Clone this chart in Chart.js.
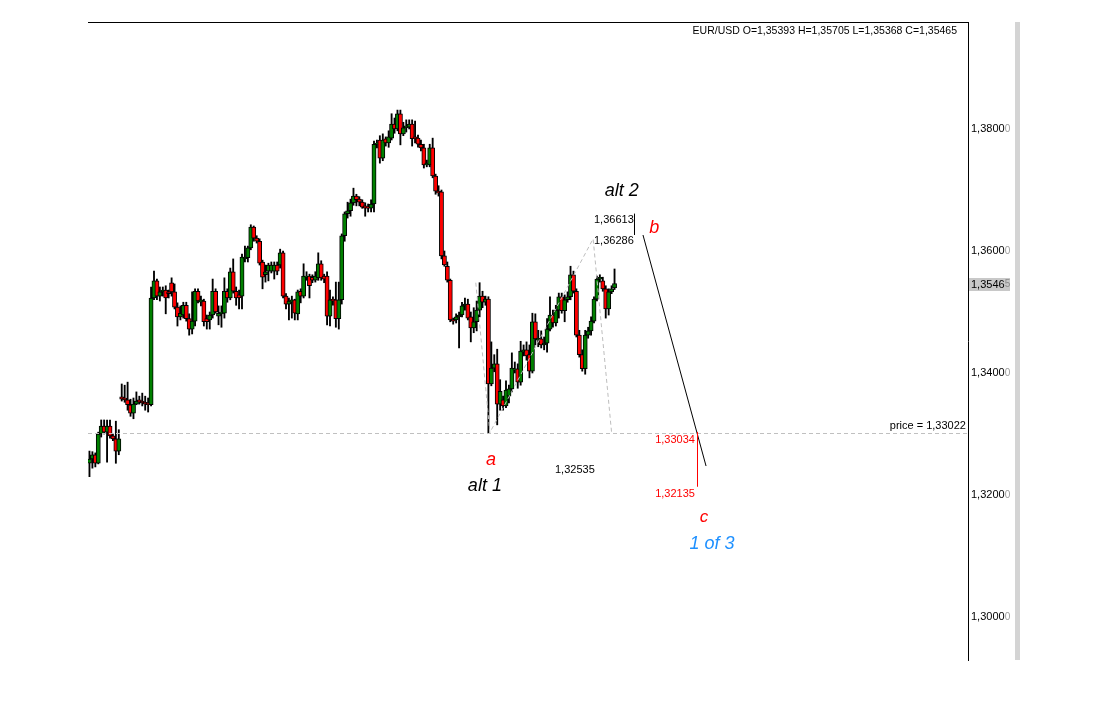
<!DOCTYPE html>
<html>
<head>
<meta charset="utf-8">
<script src="https://cdn.jsdelivr.net/npm/chart.js@4.4.0/dist/chart.umd.min.js"></script>
<style>
  html, body { margin: 0; padding: 0; background: #fff; }
  #wrap { width: 1117px; height: 711px; }
</style>
</head>
<body>
<div id="wrap"><canvas id="chart" width="1117" height="711"></canvas></div>
<script>
/* ---------- data ---------- */
const opens = [
  1.3252, 1.3259, 1.3266, 1.3252, 1.3300, 1.3313, 1.3303, 1.3313, 1.3297, 1.3292,
  1.3272, 1.3361, 1.3359, 1.3356, 1.3348, 1.3334, 1.3349, 1.3356, 1.3354, 1.3352,
  1.3351, 1.3348, 1.3523, 1.3551, 1.3526, 1.3533, 1.3536, 1.3533, 1.3548, 1.3533,
  1.3508, 1.3492, 1.3495, 1.3511, 1.3489, 1.3472, 1.3485, 1.3534, 1.3516, 1.3518,
  1.3489, 1.3487, 1.3495, 1.3534, 1.3493, 1.3497, 1.3498, 1.3534, 1.3523, 1.3566,
  1.3534, 1.3528, 1.3526, 1.3587, 1.3589, 1.3605, 1.3639, 1.3621, 1.3616, 1.3582,
  1.3561, 1.3567, 1.3567, 1.3567, 1.3577, 1.3577, 1.3597, 1.3526, 1.3513, 1.3516,
  1.3520, 1.3497, 1.3534, 1.3526, 1.3557, 1.3559, 1.3557, 1.3552, 1.3556, 1.3579,
  1.3559, 1.3559, 1.3493, 1.3521, 1.3520, 1.3489, 1.3520, 1.3625, 1.3661, 1.3666,
  1.3679, 1.3690, 1.3685, 1.3680, 1.3674, 1.3672, 1.3670, 1.3677, 1.3775, 1.3782,
  1.3752, 1.3784, 1.3777, 1.3785, 1.3808, 1.3800, 1.3825, 1.3792, 1.3802, 1.3803,
  1.3808, 1.3787, 1.3785, 1.3775, 1.3769, 1.3741, 1.3741, 1.3769, 1.3723, 1.3698,
  1.3697, 1.3592, 1.3575, 1.3552, 1.3487, 1.3487, 1.3492, 1.3495, 1.3510, 1.3513,
  1.3492, 1.3474, 1.3484, 1.3503, 1.3526, 1.3516, 1.3521, 1.3382, 1.3408, 1.3415,
  1.3349, 1.3356, 1.3346, 1.3362, 1.3374, 1.3405, 1.3407, 1.3385, 1.3434, 1.3438,
  1.3430, 1.3403, 1.3484, 1.3454, 1.3456, 1.3446, 1.3449, 1.3472, 1.3495, 1.3482,
  1.3503, 1.3525, 1.3502, 1.3520, 1.3525, 1.3561, 1.3534, 1.3462, 1.3430, 1.3407,
  1.3462, 1.3469, 1.3485, 1.3521, 1.3554, 1.3551, 1.3538, 1.3505, 1.3533, 1.35393
];
const highs = [
  1.3272, 1.3271, 1.3269, 1.3303, 1.3323, 1.3323, 1.3323, 1.3323, 1.3300, 1.3321,
  1.3307, 1.3382, 1.3380, 1.3385, 1.3357, 1.3359, 1.3369, 1.3362, 1.3367, 1.3362,
  1.3359, 1.3541, 1.3567, 1.3554, 1.3541, 1.3541, 1.3543, 1.3536, 1.3556, 1.3546,
  1.3515, 1.3510, 1.3516, 1.3516, 1.3497, 1.3533, 1.3538, 1.3538, 1.3526, 1.3521,
  1.3495, 1.3500, 1.3554, 1.3538, 1.3510, 1.3510, 1.3556, 1.3538, 1.3572, 1.3587,
  1.3541, 1.3536, 1.3595, 1.3608, 1.3608, 1.3643, 1.3641, 1.3625, 1.3620, 1.3585,
  1.3577, 1.3580, 1.3582, 1.3582, 1.3582, 1.3603, 1.3600, 1.3530, 1.3523, 1.3526,
  1.3521, 1.3536, 1.3538, 1.3579, 1.3566, 1.3562, 1.3561, 1.3566, 1.3597, 1.3584,
  1.3562, 1.3566, 1.3536, 1.3525, 1.3549, 1.3549, 1.3628, 1.3664, 1.3680, 1.3685,
  1.3703, 1.3693, 1.3689, 1.3684, 1.3679, 1.3677, 1.3684, 1.3780, 1.3782, 1.3789,
  1.3792, 1.3787, 1.3797, 1.3825, 1.3818, 1.3831, 1.3831, 1.3811, 1.3815, 1.3815,
  1.3815, 1.3813, 1.3790, 1.3782, 1.3775, 1.3749, 1.3775, 1.3785, 1.3726, 1.3707,
  1.3700, 1.3600, 1.3582, 1.3554, 1.3490, 1.3497, 1.3500, 1.3516, 1.3523, 1.3521,
  1.3500, 1.3507, 1.3518, 1.3548, 1.3534, 1.3526, 1.3525, 1.3451, 1.3430, 1.3439,
  1.3389, 1.3362, 1.3387, 1.3380, 1.3433, 1.3418, 1.3415, 1.3452, 1.3446, 1.3451,
  1.3446, 1.3498, 1.3497, 1.3470, 1.3469, 1.3459, 1.3489, 1.3525, 1.3503, 1.3511,
  1.3531, 1.3531, 1.3528, 1.3533, 1.3575, 1.3567, 1.3538, 1.3470, 1.3438, 1.3470,
  1.3475, 1.3492, 1.3525, 1.3559, 1.3561, 1.3557, 1.3543, 1.3538, 1.3543, 1.35705
];
const lows = [
  1.3230, 1.3244, 1.3246, 1.3251, 1.3295, 1.3300, 1.3254, 1.3293, 1.3289, 1.3252,
  1.3266, 1.3354, 1.3352, 1.3339, 1.3329, 1.3325, 1.3348, 1.3349, 1.3346, 1.3339,
  1.3336, 1.3346, 1.3520, 1.3520, 1.3518, 1.3526, 1.3497, 1.3523, 1.3526, 1.3505,
  1.3477, 1.3487, 1.3490, 1.3485, 1.3462, 1.3464, 1.3477, 1.3515, 1.3510, 1.3477,
  1.3472, 1.3472, 1.3490, 1.3498, 1.3479, 1.3475, 1.3490, 1.3516, 1.3520, 1.3531,
  1.3511, 1.3505, 1.3505, 1.3582, 1.3582, 1.3602, 1.3616, 1.3613, 1.3577, 1.3538,
  1.3549, 1.3551, 1.3564, 1.3554, 1.3561, 1.3572, 1.3523, 1.3505, 1.3487, 1.3490,
  1.3487, 1.3487, 1.3515, 1.3523, 1.3552, 1.3523, 1.3548, 1.3549, 1.3552, 1.3552,
  1.3548, 1.3479, 1.3477, 1.3511, 1.3475, 1.3472, 1.3513, 1.3616, 1.3654, 1.3657,
  1.3675, 1.3674, 1.3674, 1.3670, 1.3657, 1.3664, 1.3664, 1.3664, 1.3769, 1.3744,
  1.3748, 1.3772, 1.3770, 1.3782, 1.3793, 1.3797, 1.3774, 1.3789, 1.3795, 1.3800,
  1.3772, 1.3777, 1.3770, 1.3764, 1.3736, 1.3738, 1.3738, 1.3720, 1.3693, 1.3690,
  1.3587, 1.3575, 1.3549, 1.3484, 1.3480, 1.3482, 1.3441, 1.3492, 1.3503, 1.3487,
  1.3451, 1.3466, 1.3469, 1.3492, 1.3507, 1.3511, 1.3302, 1.3379, 1.3402, 1.3315,
  1.3339, 1.3339, 1.3343, 1.3351, 1.3369, 1.3400, 1.3375, 1.3380, 1.3428, 1.3421,
  1.3392, 1.3400, 1.3446, 1.3443, 1.3441, 1.3438, 1.3434, 1.3469, 1.3475, 1.3477,
  1.3490, 1.3498, 1.3484, 1.3516, 1.3520, 1.3531, 1.3459, 1.3426, 1.3403, 1.3398,
  1.3457, 1.3462, 1.3482, 1.3518, 1.3549, 1.3534, 1.3490, 1.3495, 1.3530, 1.35368
];
const closes = [
  1.3259, 1.3266, 1.3252, 1.3300, 1.3313, 1.3303, 1.3313, 1.3297, 1.3292, 1.3272,
  1.3292, 1.3357, 1.3356, 1.3348, 1.3334, 1.3349, 1.3354, 1.3352, 1.3351, 1.3349,
  1.3348, 1.3523, 1.3551, 1.3526, 1.3533, 1.3536, 1.3523, 1.3530, 1.3533, 1.3508,
  1.3492, 1.3498, 1.3511, 1.3489, 1.3472, 1.3485, 1.3534, 1.3518, 1.3520, 1.3484,
  1.3484, 1.3495, 1.3534, 1.3500, 1.3498, 1.3500, 1.3534, 1.3523, 1.3566, 1.3534,
  1.3523, 1.3523, 1.3590, 1.3590, 1.3605, 1.3639, 1.3621, 1.3616, 1.3580, 1.3557,
  1.3566, 1.3577, 1.3577, 1.3577, 1.3567, 1.3597, 1.3526, 1.3513, 1.3518, 1.3520,
  1.3498, 1.3533, 1.3526, 1.3559, 1.3559, 1.3543, 1.3552, 1.3559, 1.3579, 1.3556,
  1.3554, 1.3493, 1.3520, 1.3518, 1.3489, 1.3520, 1.3625, 1.3661, 1.3666, 1.3679,
  1.3690, 1.3684, 1.3680, 1.3672, 1.3670, 1.3670, 1.3677, 1.3775, 1.3777, 1.3752,
  1.3782, 1.3777, 1.3787, 1.3808, 1.3800, 1.3825, 1.3792, 1.3802, 1.3805, 1.3808,
  1.3784, 1.3784, 1.3775, 1.3769, 1.3741, 1.3744, 1.3769, 1.3723, 1.3698, 1.3695,
  1.3592, 1.3577, 1.3552, 1.3487, 1.3485, 1.3492, 1.3495, 1.3510, 1.3513, 1.3490,
  1.3474, 1.3484, 1.3503, 1.3526, 1.3516, 1.3521, 1.3382, 1.3408, 1.3415, 1.3349,
  1.3370, 1.3346, 1.3372, 1.3374, 1.3408, 1.3407, 1.3385, 1.3436, 1.3438, 1.3428,
  1.3403, 1.3484, 1.3456, 1.3457, 1.3446, 1.3449, 1.3472, 1.3495, 1.3482, 1.3503,
  1.3525, 1.3502, 1.3520, 1.3525, 1.3561, 1.3534, 1.3462, 1.3430, 1.3407, 1.3462,
  1.3469, 1.3485, 1.3521, 1.3554, 1.3557, 1.3538, 1.3505, 1.3533, 1.3538, 1.35465
];

const slotCount = 300;                 // bar slots incl. the empty space on the right
const yTicks = [1.30, 1.32, 1.34, 1.36, 1.38];
const yMin = 1.29295, yMax = 1.39754;
const priceLevel = 1.33022;
const lastPrice = 1.35465;
const header = 'EUR/USD O=1,35393 H=1,35705 L=1,35368 C=1,35465';

// wave sketch, points as [slot, price]
const dashedPath = [[131.7, 1.3548], [136.5, 1.33022], [171.7, 1.3620], [178.0, 1.33022]];
const projection = [[188.7, 1.36262], [210.2, 1.32475]];
const bMarker = [[185.6, 1.36613], [185.6, 1.36262]];
const cRange = [[207.0, 1.33034], [207.0, 1.32135]];

const notes = [
  { text: '1,36613', slot: 172.0, price: 1.36508, color: '#000', size: 11, align: 'left' },
  { text: '1,36286', slot: 172.0, price: 1.36164, color: '#000', size: 11, align: 'left' },
  { text: '1,32535', slot: 158.7, price: 1.32410, color: '#000', size: 11, align: 'left' },
  { text: 'price = 1,33022', slot: 298.8, price: 1.33131, color: '#000', size: 11, align: 'right' },
  { text: '1,33034', slot: 206.4, price: 1.32902, color: '#f00', size: 11, align: 'right' },
  { text: '1,32135', slot: 206.4, price: 1.32016, color: '#f00', size: 11, align: 'right' },
  { text: 'a', slot: 136.9, price: 1.32574, color: '#f00', size: 18, align: 'center', italic: true },
  { text: 'alt 1', slot: 134.8, price: 1.32148, color: '#000', size: 18, align: 'center', italic: true },
  { text: 'alt 2', slot: 181.5, price: 1.36984, color: '#000', size: 18, align: 'center', italic: true },
  { text: 'b', slot: 192.5, price: 1.36377, color: '#f00', size: 18, align: 'center', italic: true },
  { text: 'c', slot: 209.5, price: 1.31639, color: '#f00', size: 17, align: 'center', italic: true },
  { text: '1 of 3', slot: 212.2, price: 1.31197, color: '#1e90ff', size: 18, align: 'center', italic: true }
];

/* ---------- helpers ---------- */
const FONT = '"Liberation Sans", Arial, sans-serif';
const TICK_PAD = 3;
const fmt4 = v => v.toFixed(4).replace('.', ',');
const slots = Array.from({ length: slotCount }, (_, i) => i);

const bodies = opens.map((o, i) => [Math.min(o, closes[i]), Math.max(o, closes[i])]);
const wicks = lows.map((l, i) => [l, highs[i]]);
const bodyColors = opens.map((o, i) => (closes[i] >= o ? '#008000' : '#ff0000'));

/* ---------- overlay plugin ---------- */
const overlay = {
  id: 'overlay',
  afterDatasetsDraw(chart) {
    const { ctx, chartArea: a, scales: { x, y } } = chart;
    const px = p => [x.getPixelForValue(p[0]), y.getPixelForValue(p[1])];

    ctx.save();
    // frame top
    ctx.strokeStyle = '#000';
    ctx.lineWidth = 1;
    ctx.beginPath();
    ctx.moveTo(a.left, Math.round(a.top) + 0.5);
    ctx.lineTo(a.right, Math.round(a.top) + 0.5);
    ctx.stroke();

    // price level
    const ly = Math.round(y.getPixelForValue(priceLevel)) + 0.5;
    ctx.strokeStyle = '#c0c0c0';
    ctx.setLineDash([4, 3]);
    ctx.beginPath();
    ctx.moveTo(a.left, ly);
    ctx.lineTo(a.right, ly);
    ctx.stroke();

    // dashed wave path
    ctx.strokeStyle = '#bdbdbd';
    ctx.beginPath();
    dashedPath.forEach((p, i) => {
      const [qx, qy] = px(p);
      i ? ctx.lineTo(qx, qy) : ctx.moveTo(qx, qy);
    });
    ctx.stroke();
    ctx.setLineDash([]);

    // projection b -> c
    ctx.strokeStyle = '#000';
    ctx.beginPath();
    ctx.moveTo(...px(projection[0]));
    ctx.lineTo(...px(projection[1]));
    ctx.stroke();

    // b marker
    ctx.beginPath();
    const bx = Math.round(px(bMarker[0])[0]) + 0.5;
    ctx.moveTo(bx, px(bMarker[0])[1]);
    ctx.lineTo(bx, px(bMarker[1])[1]);
    ctx.stroke();

    // c range
    ctx.strokeStyle = '#f00';
    ctx.beginPath();
    const cx = Math.round(px(cRange[0])[0]) + 0.5;
    ctx.moveTo(cx, px(cRange[0])[1]);
    ctx.lineTo(cx, px(cRange[1])[1]);
    ctx.stroke();

    // notes
    ctx.textBaseline = 'middle';
    notes.forEach(n => {
      ctx.font = (n.italic ? 'italic ' : '') + n.size + 'px ' + FONT;
      ctx.fillStyle = n.color;
      ctx.textAlign = n.align;
      const [tx, ty] = px([n.slot, n.price]);
      ctx.fillText(n.text, tx, ty);
    });

    // header
    ctx.font = '10.5px ' + FONT;
    ctx.fillStyle = '#000';
    ctx.textAlign = 'right';
    ctx.fillText(header, a.right - 11, a.top + 9);
    ctx.restore();
  },
  afterDraw(chart) {
    const { ctx, chartArea: a, scales: { y } } = chart;
    ctx.save();
    ctx.textBaseline = 'middle';
    ctx.textAlign = 'left';
    const lx = y.left + TICK_PAD;

    // faded fifth digit on the axis labels
    y.ticks.forEach(t => {
      const ty = y.getPixelForValue(t.value);
      ctx.font = '11px ' + FONT;
      const w = ctx.measureText(fmt4(t.value)).width;
      ctx.font = '10px ' + FONT;
      ctx.fillStyle = '#9a9a9a';
      ctx.fillText('0', lx + w, ty + 0.5);
    });

    // last price tag
    const py = Math.round(y.getPixelForValue(lastPrice));
    ctx.fillStyle = '#c8c8c8';
    ctx.fillRect(y.left + 1, py - 6, 41, 13);
    ctx.font = '11px ' + FONT;
    ctx.fillStyle = '#000';
    const main = lastPrice.toFixed(5).replace('.', ',').slice(0, -1);
    ctx.fillText(main, lx, py + 0.5);
    const mw = ctx.measureText(main).width;
    ctx.font = '10px ' + FONT;
    ctx.fillStyle = '#8a8a8a';
    ctx.fillText(lastPrice.toFixed(5).slice(-1), lx + mw, py + 0.5);

    // scrollbar strip on the right
    ctx.fillStyle = '#d4d4d4';
    ctx.fillRect(1015, a.top, 5, a.bottom - a.top);
    ctx.restore();
  }
};

/* ---------- chart ---------- */
new Chart(document.getElementById('chart'), {
  type: 'bar',
  data: {
    labels: slots,
    datasets: [
      {
        data: bodies,
        backgroundColor: bodyColors,
        borderColor: '#000',
        borderWidth: 1,
        borderSkipped: false,
        barThickness: 4.2,
        grouped: false,
        order: 0
      },
      {
        data: wicks,
        backgroundColor: '#000',
        borderWidth: 0,
        barThickness: 1.2,
        grouped: false,
        order: 1
      }
    ]
  },
  options: {
    responsive: false,
    animation: false,
    events: [],
    layout: { padding: { left: 88, top: 22, bottom: 51, right: 0 } },
    plugins: { legend: { display: false }, tooltip: { enabled: false } },
    scales: {
      x: { display: false, offset: true },
      y: {
        position: 'right',
        min: yMin,
        max: yMax,
        afterBuildTicks: s => { s.ticks = yTicks.map(v => ({ value: v })); },
        afterFit: s => { s.width = 149; },
        grid: { display: false, drawTicks: false },
        border: { display: true, color: '#000', width: 1 },
        ticks: {
          padding: TICK_PAD,
          color: '#000',
          font: { family: FONT, size: 11 },
          callback: v => fmt4(v)
        }
      }
    }
  },
  plugins: [overlay]
});
</script>
</body>
</html>
